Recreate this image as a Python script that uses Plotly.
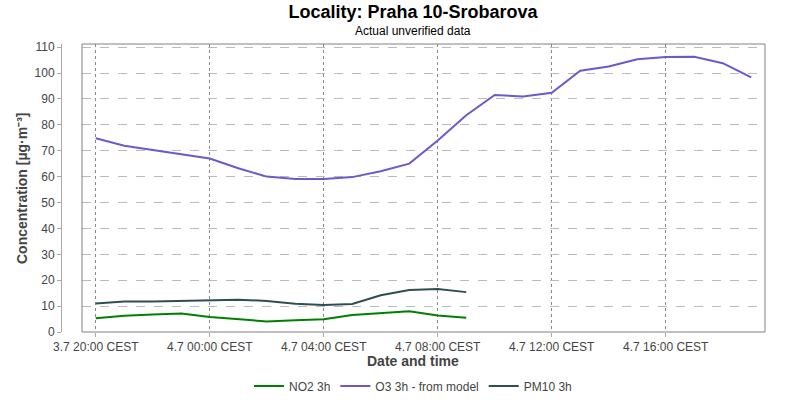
import plotly.graph_objects as go
import pandas as pd

times = pd.date_range("2023-07-03 20:00", periods=24, freq="h")

o3 = [74.8, 71.9, 70.3, 68.7, 67.0, 63.2, 60.0, 59.1, 59.1, 59.8, 62.1, 65.0,
      73.9, 83.7, 91.5, 90.9, 92.4, 100.9, 102.5, 105.3, 106.2, 106.3, 103.8, 98.3]
no2 = [5.3, 6.3, 6.8, 7.1, 5.8, 4.9, 4.1, 4.5, 4.9, 6.6, 7.4, 8.0, 6.4, 5.5]
pm10 = [11.0, 11.8, 11.8, 12.1, 12.2, 12.5, 12.0, 10.9, 10.4, 10.8, 14.2, 16.2, 16.6, 15.4]

tick_vals = ["2023-07-03 20:00", "2023-07-04 00:00", "2023-07-04 04:00",
             "2023-07-04 08:00", "2023-07-04 12:00", "2023-07-04 16:00"]
tick_text = ["3.7 20:00 CEST", "4.7 00:00 CEST", "4.7 04:00 CEST",
             "4.7 08:00 CEST", "4.7 12:00 CEST", "4.7 16:00 CEST"]
y_ticks = list(range(0, 111, 10))

FONT = "Liberation Sans, Arial, sans-serif"

fig = go.Figure()
fig.add_trace(go.Scatter(x=times[:len(no2)], y=no2, mode="lines", name="NO2 3h",
                         line=dict(color="#008000", width=2)))
fig.add_trace(go.Scatter(x=times, y=o3, mode="lines", name="O3 3h - from model",
                         line=dict(color="#6a5acd", width=2)))
fig.add_trace(go.Scatter(x=times[:len(pm10)], y=pm10, mode="lines", name="PM10 3h",
                         line=dict(color="#2f4f4f", width=2)))

fig.update_layout(
    width=800, height=400,
    margin=dict(l=61, r=35, t=44, b=68, autoexpand=False),
    paper_bgcolor="white", plot_bgcolor="white",
    font=dict(family=FONT, size=12, color="#444444"),
    showlegend=True,
    legend=dict(orientation="h", x=0.5, xanchor="center", y=-54 / 288, yanchor="middle",
                font=dict(size=12, color="#444444"), itemwidth=30, tracegroupgap=0),
    title=dict(text="<b>Locality: Praha 10-Srobarova</b>", x=0.5, xanchor="center",
               xref="paper", y=1 - 12 / 400, yref="container", yanchor="middle",
               font=dict(size=18, color="#000000", family=FONT)),
    xaxis=dict(
        domain=[21 / 704, 1],
        type="date",
        range=["2023-07-03 19:31", "2023-07-04 19:29"],
        tickvals=tick_vals, ticktext=tick_text,
        showgrid=True, gridcolor="#888888", griddash="dot", gridwidth=1,
        showline=False, ticks="outside", ticklen=4, tickcolor="#aaaaaa",
        zeroline=False, tickfont=dict(size=12, color="#444444"), automargin=False,
    ),
    yaxis=dict(
        anchor="free", position=0,
        range=[0, 111.2],
        tickvals=y_ticks,
        showgrid=True, gridcolor="#bbbbbb", griddash="dash", gridwidth=1,
        showline=True, linecolor="#aaaaaa", linewidth=1,
        ticks="outside", ticklen=4, tickcolor="#aaaaaa",
        zeroline=False, tickfont=dict(size=12, color="#444444"), automargin=False,
    ),
    shapes=[dict(type="rect", xref="x domain", yref="y domain", x0=0, x1=1, y0=0, y1=1,
                 line=dict(color="#808080", width=1), fillcolor="rgba(0,0,0,0)", layer="above")],
    annotations=[
        dict(text="Actual unverified data", xref="paper", yref="paper", x=0.5, xanchor="center",
             y=1 + 13 / 288, yanchor="middle", showarrow=False,
             font=dict(size=12, color="#000000", family=FONT)),
        dict(text="<b>Date and time</b>", xref="paper", yref="paper", x=0.5, xanchor="center",
             y=-29 / 288, yanchor="middle", showarrow=False,
             font=dict(size=14, color="#444444", family=FONT)),
        dict(text="<b>Concentration [µg·m⁻³]</b>", xref="paper", yref="paper",
             x=-39 / 704, xanchor="center", y=0.5, yanchor="middle", textangle=-90,
             showarrow=False, font=dict(size=14, color="#444444", family=FONT)),
    ],
)

fig.write_html("out.html", config={"displayModeBar": False},
               post_script="document.body.style.margin='0';")
